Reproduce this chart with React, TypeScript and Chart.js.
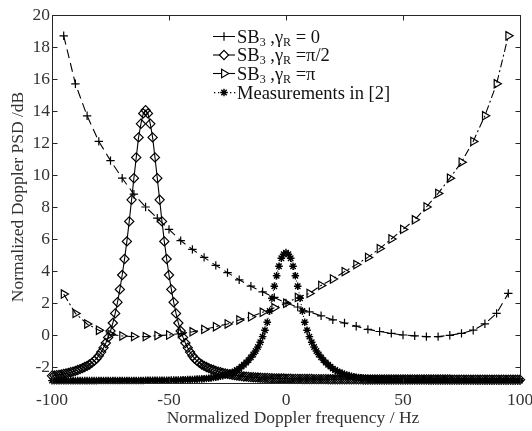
import React, { useEffect, useRef } from 'react';
import { Chart, registerables } from 'chart.js';
import { drawPoint } from 'chart.js/helpers';

Chart.register(...registerables);

// ---------- data ----------
const xCoarse = [-95, -90, -85, -80, -75, -70, -65, -60, -55, -50, -45, -40, -35, -30, -25, -20, -15, -10, -5, 0, 5, 10, 15, 20, 25, 30, 35, 40, 45, 50, 55, 60, 65, 70, 75, 80, 85, 90, 95];

const sbGamma0 = [18.7, 15.7, 13.7, 12.1, 10.9, 9.8, 8.8, 8.0, 7.3, 6.6, 5.9, 5.35, 4.85, 4.35, 3.9, 3.45, 3.05, 2.7, 2.35, 2.0, 1.75, 1.45, 1.2, 0.95, 0.75, 0.55, 0.35, 0.22, 0.1, 0.0, -0.05, -0.1, -0.1, -0.02, 0.1, 0.3, 0.7, 1.35, 2.6];

const sbGammaPi = [2.56, 1.35, 0.69, 0.3, 0.04, -0.06, -0.1, -0.1, -0.04, 0.0, 0.1, 0.2, 0.35, 0.52, 0.69, 0.94, 1.14, 1.42, 1.7, 1.98, 2.35, 2.6, 3.1, 3.5, 3.96, 4.4, 4.85, 5.4, 6.0, 6.6, 7.2, 8.0, 8.85, 9.8, 10.8, 12.1, 13.7, 15.7, 18.7];

// fine sampling grid: -100 .. 100 Hz, 1 Hz step
const fineStart = -100;
const fineStep = 1;

const sbGammaHalfPi = [
  -2.55, -2.53, -2.51, -2.49, -2.46, -2.43, -2.4, -2.37, -2.33, -2.29,
  -2.24, -2.19, -2.13, -2.07, -2.0, -1.93, -1.84, -1.74, -1.62, -1.48,
  -1.3, -1.07, -0.8, -0.5, -0.15, 0.25, 0.75, 1.35, 2.05, 2.85,
  3.75, 4.75, 5.85, 7.1, 8.45, 9.8, 11.1, 12.35, 13.2, 13.85,
  14.05,
  13.85, 13.2, 12.35, 11.1, 9.8, 8.45, 7.1, 5.85, 4.75, 3.75,
  2.85, 2.05, 1.35, 0.75, 0.25, -0.15, -0.5, -0.8, -1.07, -1.3,
  -1.48, -1.62, -1.74, -1.84, -1.93, -2.0, -2.07, -2.13, -2.19, -2.24,
  -2.29, -2.33, -2.37, -2.4, -2.43, -2.46, -2.49, -2.51, -2.53, -2.55,
  -2.57, -2.59, -2.6, -2.62, -2.63, -2.64, -2.65, -2.66, -2.67, -2.68,
  -2.69, -2.69, -2.7, -2.7, -2.71, -2.71, -2.72, -2.72, -2.72, -2.73,
  -2.73, -2.73, -2.74, -2.74, -2.74, -2.74, -2.75, -2.75, -2.75, -2.75,
  -2.75, -2.76, -2.76, -2.76, -2.76, -2.76, -2.76, -2.77, -2.77, -2.77,
  -2.77, -2.77, -2.77, -2.77, -2.77, -2.77, -2.77, -2.77, -2.77, -2.77,
  -2.77, -2.77, -2.78, -2.78, -2.78, -2.78, -2.78, -2.78, -2.78, -2.78,
  -2.78, -2.78, -2.78, -2.78, -2.78, -2.78, -2.78, -2.78, -2.78, -2.78,
  -2.78, -2.78, -2.78, -2.78, -2.78, -2.78, -2.78, -2.78, -2.78, -2.78,
  -2.78, -2.78, -2.78, -2.78, -2.78, -2.78, -2.78, -2.78, -2.78, -2.78,
  -2.79, -2.79, -2.79, -2.79, -2.79, -2.79, -2.79, -2.79, -2.79, -2.79,
  -2.79, -2.79, -2.79, -2.79, -2.79, -2.79, -2.79, -2.79, -2.79, -2.79,
  -2.79, -2.79, -2.79, -2.79, -2.79, -2.79, -2.79, -2.79, -2.79, -2.79,
];

const measurements = [
  -2.85, -2.85, -2.85, -2.85, -2.85, -2.85, -2.85, -2.85, -2.85, -2.85,
  -2.85, -2.85, -2.85, -2.85, -2.85, -2.85, -2.85, -2.85, -2.85, -2.85,
  -2.84, -2.84, -2.84, -2.84, -2.84, -2.84, -2.84, -2.84, -2.84, -2.84,
  -2.84, -2.84, -2.84, -2.84, -2.84, -2.84, -2.84, -2.84, -2.84, -2.84,
  -2.83, -2.83, -2.83, -2.83, -2.83, -2.83, -2.83, -2.83, -2.83, -2.83,
  -2.83, -2.82, -2.82, -2.82, -2.81, -2.81, -2.8, -2.8, -2.79, -2.79,
  -2.78, -2.77, -2.76, -2.75, -2.74, -2.73, -2.72, -2.7, -2.68, -2.66,
  -2.64, -2.61, -2.58, -2.54, -2.5, -2.46, -2.4, -2.34, -2.27, -2.19,
  -2.1, -1.98, -1.86, -1.72, -1.57, -1.4, -1.22, -1.0, -0.75, -0.45,
  -0.1, 0.3, 0.8, 1.5, 2.3, 3.05, 3.7, 4.3, 4.8, 5.05,
  5.15,
  5.05, 4.8, 4.3, 3.7, 3.05, 2.3, 1.5, 0.8, 0.3, -0.1,
  -0.45, -0.75, -1.0, -1.22, -1.4, -1.57, -1.72, -1.86, -1.98, -2.1,
  -2.19, -2.27, -2.34, -2.4, -2.46, -2.5, -2.54, -2.58, -2.61, -2.64,
  -2.66, -2.68, -2.7, -2.72, -2.73, -2.74, -2.75, -2.76, -2.77, -2.78,
  -2.79, -2.79, -2.8, -2.8, -2.81, -2.81, -2.82, -2.82, -2.82, -2.83,
  -2.83, -2.83, -2.83, -2.83, -2.83, -2.83, -2.83, -2.83, -2.83, -2.83,
  -2.84, -2.84, -2.84, -2.84, -2.84, -2.84, -2.84, -2.84, -2.84, -2.84,
  -2.84, -2.84, -2.84, -2.84, -2.84, -2.84, -2.84, -2.84, -2.84, -2.84,
  -2.85, -2.85, -2.85, -2.85, -2.85, -2.85, -2.85, -2.85, -2.85, -2.85,
  -2.85, -2.85, -2.85, -2.85, -2.85, -2.85, -2.85, -2.85, -2.85, -2.85,
];

const xTicks = [-100, -50, 0, 50, 100];
const yTicks = [-2, 0, 2, 4, 6, 8, 10, 12, 14, 16, 18, 20];
const xMin = -100;
const xMax = 100;
const yMin = -3;
const yMax = 20;

const xTitle = 'Normalized Doppler frequency / Hz';
const yTitle = 'Normalized Doppler PSD /dB';

type Seg = { t: string; sub?: boolean };
const legendRows: Seg[][] = [
  [{ t: 'SB' }, { t: '3', sub: true }, { t: ' ,\u03B3' }, { t: 'R', sub: true }, { t: ' = 0' }],
  [{ t: 'SB' }, { t: '3', sub: true }, { t: ' ,\u03B3' }, { t: 'R', sub: true }, { t: ' =\u03C0/2' }],
  [{ t: 'SB' }, { t: '3', sub: true }, { t: ' ,\u03B3' }, { t: 'R', sub: true }, { t: ' =\u03C0' }],
  [{ t: 'Measurements in [2]' }],
];

// ---------- styling ----------
const FONT = '"Liberation Serif", "Times New Roman", serif';
const AXIS_COLOR = '#262626';
const TICK_COLOR = '#333333';
const TICK_SIZE = 17.5;

const markerStyles = [
  { pointStyle: 'cross', radius: 4.2, rotation: 0, bw: 1.2 },
  { pointStyle: 'rectRot', radius: 4.6, rotation: 0, bw: 1.2 },
  { pointStyle: 'triangle', radius: 4.8, rotation: 90, bw: 1.2 },
  { pointStyle: 'star', radius: 3.8, rotation: 0, bw: 1.4 },
];

const fineXY = (vals: number[]) => vals.map((v, i) => ({ x: fineStart + i * fineStep, y: v }));
const coarseXY = (vals: number[]) => vals.map((v, i) => ({ x: xCoarse[i], y: v }));

const framePlugin = {
  id: 'matlabFrame',
  afterDraw(chart: any) {
    const { ctx, chartArea } = chart;
    const { left, right, top, bottom } = chartArea;
    const xs = chart.scales.x;
    const ys = chart.scales.y;
    ctx.save();
    ctx.strokeStyle = AXIS_COLOR;
    ctx.lineWidth = 1;
    ctx.setLineDash([]);
    const L = Math.round(left) + 0.5;
    const R = Math.round(right) + 0.5;
    const T = Math.round(top) + 0.5;
    const B = Math.round(bottom) + 0.5;
    ctx.strokeRect(L, T, R - L, B - T);
    const tl = 5;
    ctx.beginPath();
    xTicks.forEach((v) => {
      const px = Math.round(xs.getPixelForValue(v)) + 0.5;
      ctx.moveTo(px, B);
      ctx.lineTo(px, B - tl);
      ctx.moveTo(px, T);
      ctx.lineTo(px, T + tl);
    });
    yTicks.forEach((v) => {
      const py = Math.round(ys.getPixelForValue(v)) + 0.5;
      ctx.moveTo(L, py);
      ctx.lineTo(L + tl, py);
      ctx.moveTo(R, py);
      ctx.lineTo(R - tl, py);
    });
    ctx.stroke();

    // axis titles
    ctx.fillStyle = TICK_COLOR;
    ctx.font = `${TICK_SIZE}px ${FONT}`;
    ctx.textAlign = 'center';
    ctx.textBaseline = 'middle';
    ctx.fillText(xTitle, (left + right) / 2 + 7, 418);
    ctx.save();
    ctx.translate(18, (top + bottom) / 2 - 2);
    ctx.rotate(-Math.PI / 2);
    ctx.fillText(yTitle, 0, 0);
    ctx.restore();

    // legend
    const rowY = [36.5, 55, 73.5, 92.5];
    const lx0 = 213;
    const lx1 = 235;
    const mx = 224;
    const tx = 237;
    const mainSize = 18.5;
    const subSize = 12;
    rowY.forEach((y, i) => {
      ctx.strokeStyle = '#000';
      ctx.lineWidth = 1.1;
      ctx.beginPath();
      if (i === 0) {
        ctx.moveTo(lx0, y); ctx.lineTo(mx - 4, y);
        ctx.moveTo(mx + 4, y); ctx.lineTo(lx1, y);
        ctx.stroke();
      } else if (i === 1 || i === 2) {
        ctx.moveTo(lx0, y); ctx.lineTo(lx1, y);
        ctx.stroke();
      } else {
        ctx.fillStyle = '#000';
        [lx0 + 1, lx0 + 5, lx1 - 5, lx1 - 1].forEach((dx) => ctx.fillRect(dx, y - 0.5, 1.3, 1.3));
      }
      const m = markerStyles[i];
      ctx.fillStyle = '#fff';
      ctx.strokeStyle = '#000';
      ctx.lineWidth = m.bw;
      drawPoint(ctx, { pointStyle: m.pointStyle as any, rotation: m.rotation, radius: m.radius, borderWidth: m.bw } as any, mx, y);
      // text
      let x = tx;
      ctx.fillStyle = '#111';
      ctx.textAlign = 'left';
      ctx.textBaseline = 'alphabetic';
      legendRows[i].forEach((seg) => {
        if (seg.sub) {
          ctx.font = `${subSize}px ${FONT}`;
          ctx.fillText(seg.t, x, y + 9);
        } else {
          ctx.font = `${mainSize}px ${FONT}`;
          ctx.fillText(seg.t, x, y + 6);
        }
        x += ctx.measureText(seg.t).width;
      });
    });
    ctx.restore();
  },
};

export default function App() {
  const ref = useRef<HTMLCanvasElement | null>(null);
  useEffect(() => {
    if (!ref.current) return;
    const common = {
      borderColor: '#000',
      borderWidth: 1.1,
      pointBorderColor: '#000',
      pointBackgroundColor: 'rgba(255,255,255,0)',
      tension: 0,
      fill: false,
      clip: false as any,
    };
    const chart = new Chart(ref.current, {
      type: 'line',
      data: {
        datasets: [
          {
            ...common,
            label: 'SB3, gammaR = 0',
            data: coarseXY(sbGamma0),
            borderDash: [9, 5],
            pointStyle: 'cross',
            pointRadius: markerStyles[0].radius,
            pointBorderWidth: markerStyles[0].bw,
          },
          {
            ...common,
            label: 'SB3, gammaR = pi/2',
            data: fineXY(sbGammaHalfPi),
            pointStyle: 'rectRot',
            pointRadius: markerStyles[1].radius,
            pointBorderWidth: markerStyles[1].bw,
          },
          {
            ...common,
            label: 'SB3, gammaR = pi',
            data: coarseXY(sbGammaPi),
            borderDash: [8, 3, 2, 3],
            pointStyle: 'triangle',
            pointRotation: 90,
            pointRadius: markerStyles[2].radius,
            pointBorderWidth: markerStyles[2].bw,
          },
          {
            ...common,
            label: 'Measurements in [2]',
            data: fineXY(measurements),
            borderDash: [1, 3],
            pointStyle: 'star',
            pointRadius: markerStyles[3].radius,
            pointBorderWidth: markerStyles[3].bw,
          },
        ] as any,
      },
      options: {
        responsive: false,
        animation: false,
        devicePixelRatio: 1,
        layout: { padding: { top: 15, right: 12, bottom: 0, left: 0 } },
        plugins: { legend: { display: false }, tooltip: { enabled: false } },
        scales: {
          x: {
            type: 'linear',
            min: xMin,
            max: xMax,
            afterBuildTicks: (s: any) => { s.ticks = xTicks.map((v) => ({ value: v })); },
            afterFit: (s: any) => { s.height = 48; s.paddingLeft = 0; s.paddingRight = 0; },
            grid: { display: false, drawTicks: false },
            border: { display: false },
            ticks: {
              autoSkip: false,
              maxRotation: 0,
              padding: 7,
              color: TICK_COLOR,
              font: { family: FONT, size: TICK_SIZE },
            },
          },
          y: {
            type: 'linear',
            min: yMin,
            max: yMax,
            afterBuildTicks: (s: any) => { s.ticks = yTicks.map((v) => ({ value: v })); },
            afterFit: (s: any) => { s.width = 52; s.paddingTop = 0; s.paddingBottom = 0; },
            grid: { display: false, drawTicks: false },
            border: { display: false },
            ticks: {
              autoSkip: false,
              padding: 2,
              color: TICK_COLOR,
              font: { family: FONT, size: TICK_SIZE },
            },
          },
        },
      } as any,
      plugins: [framePlugin],
    });
    return () => chart.destroy();
  }, []);
  return (
    <div style={{ position: 'absolute', left: 0, top: 0, width: 532, height: 431, background: '#fff' }}>
      <canvas ref={ref} width={532} height={431} />
    </div>
  );
}
